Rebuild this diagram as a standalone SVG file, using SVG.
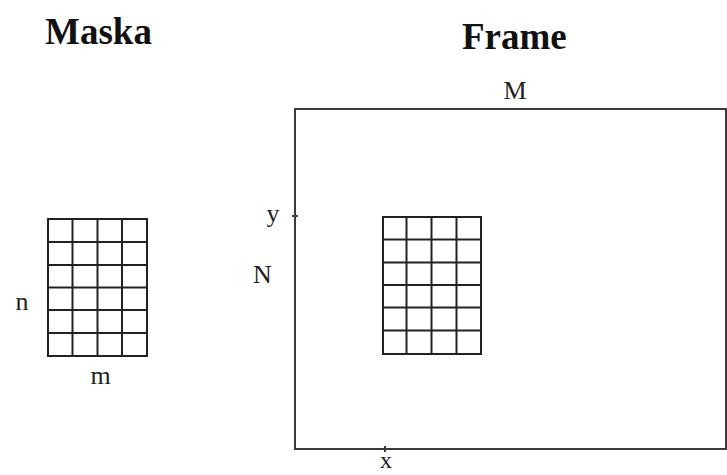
<svg xmlns="http://www.w3.org/2000/svg" width="727" height="475" viewBox="0 0 727 475">
<style>
.title{font-family:"Liberation Serif",serif;font-weight:bold;font-size:37px;fill:#111}
.lbl{font-family:"Liberation Serif",serif;font-size:26px;fill:#222;text-anchor:middle}
.grid{fill:none;stroke:#222;stroke-width:2}
.frame{fill:none;stroke:#3a3a3a;stroke-width:2}
</style>
<rect width="727" height="475" fill="#fff"/>
<g id="maska">
<text class="title" x="45" y="44">Maska</text>
<g class="grid">
<rect x="48" y="219" width="99" height="137"/>
<path d="M72.5 219V356M97.5 219V356M122 219V356M48 242H147M48 265H147M48 287.5H147M48 310H147M48 333H147"/>
</g>
<text class="lbl" x="22" y="310">n</text>
<text class="lbl" x="100.5" y="384">m</text>
</g>
<g id="frame">
<text class="title" x="462" y="49">Frame</text>
<rect class="frame" x="295" y="109" width="431" height="340"/>
<text class="lbl" x="515" y="99">M</text>
<text class="lbl" x="262.5" y="283">N</text>
<text class="lbl" x="273" y="222">y</text>
<text class="lbl" x="386" y="468" style="font-size:24px">x</text>
<path class="frame" d="M292 216H298M385 446V452"/>
</g>
<g id="window">
<g class="grid">
<rect x="383" y="217" width="98" height="137"/>
<path d="M406.5 217V354M431.5 217V354M456.5 217V354M383 239.5H481M383 262.5H481M383 285H481M383 307.5H481M383 330.5H481"/>
</g>
</g>
</svg>
